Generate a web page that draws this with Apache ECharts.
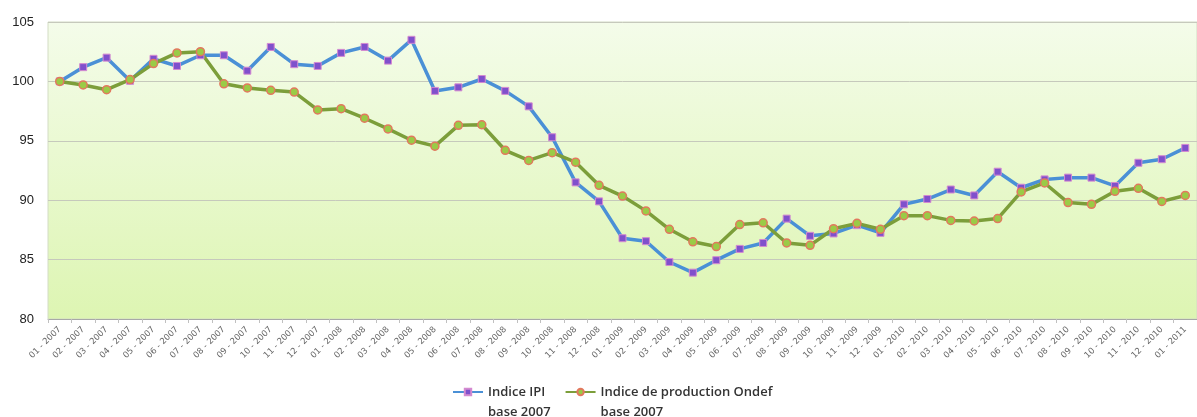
<!DOCTYPE html>
<html>
<head>
<meta charset="utf-8">
<script src="https://cdn.jsdelivr.net/npm/echarts@6/dist/echarts.min.js"></script>
<style>
  html, body { margin: 0; padding: 0; background: #fff; }
  #chart { width: 1197px; height: 417px; }
</style>
</head>
<body>
<div id="chart"></div>
<script>
// mois 01-2007 .. 01-2011
var months = [
  "01 - 2007", "02 - 2007", "03 - 2007", "04 - 2007", "05 - 2007", "06 - 2007",
  "07 - 2007", "08 - 2007", "09 - 2007", "10 - 2007", "11 - 2007", "12 - 2007",
  "01 - 2008", "02 - 2008", "03 - 2008", "04 - 2008", "05 - 2008", "06 - 2008",
  "07 - 2008", "08 - 2008", "09 - 2008", "10 - 2008", "11 - 2008", "12 - 2008",
  "01 - 2009", "02 - 2009", "03 - 2009", "04 - 2009", "05 - 2009", "06 - 2009",
  "07 - 2009", "08 - 2009", "09 - 2009", "10 - 2009", "11 - 2009", "12 - 2009",
  "01 - 2010", "02 - 2010", "03 - 2010", "04 - 2010", "05 - 2010", "06 - 2010",
  "07 - 2010", "08 - 2010", "09 - 2010", "10 - 2010", "11 - 2010", "12 - 2010",
  "01 - 2011"
];

var indiceIPI = [
  100, 101.2, 102.0, 100.05, 101.9, 101.3, 102.2, 102.2, 100.9, 102.9, 101.45, 101.3,
  102.4, 102.9, 101.75, 103.5, 99.2, 99.5, 100.2, 99.2, 97.9, 95.3, 91.5, 89.9,
  86.8, 86.55, 84.8, 83.9, 84.95, 85.9, 86.4, 88.45, 87.0, 87.2, 87.9, 87.25,
  89.65, 90.1, 90.9, 90.4, 92.4, 91.05, 91.75, 91.9, 91.9, 91.2, 93.15, 93.45,
  94.4
];

var indiceOndef = [
  100, 99.7, 99.3, 100.15, 101.5, 102.4, 102.5, 99.8, 99.45, 99.25, 99.1, 97.6,
  97.7, 96.9, 96.0, 95.05, 94.55, 96.3, 96.35, 94.2, 93.35, 94.0, 93.2, 91.25,
  90.35, 89.1, 87.55, 86.5, 86.1, 87.95, 88.1, 86.4, 86.2, 87.6, 88.05, 87.55,
  88.7, 88.7, 88.3, 88.25, 88.45, 90.7, 91.45, 89.8, 89.65, 90.75, 91.0, 89.9,
  90.4
];

var yTicks = [80, 85, 90, 95, 100, 105];

var nameIPI = "Indice IPI\nbase 2007";
var nameOndef = "Indice de production Ondef\nbase 2007";

var myChart = echarts.init(document.getElementById("chart"));

var option = {
  animation: false,
  grid: {
    show: true,
    left: 48,
    top: 22,
    bottom: 98,
    width: 1161,
    borderColor: "#d3dcc4",
    borderWidth: 1,
    backgroundColor: {
      type: "linear", x: 0, y: 0, x2: 0, y2: 1,
      colorStops: [
        { offset: 0, color: "#f4fcea" },
        { offset: 1, color: "#ddf5b2" }
      ]
    }
  },
  legend: {
    left: 452,
    top: 362,
    padding: 0,
    itemWidth: 30,
    itemHeight: 8,
    itemGap: 14,
    // ligne vide en tete pour aligner l'icone sur la premiere ligne
    formatter: function (name) {
      return "\n" + name;
    },
    textStyle: {
      fontFamily: "Open Sans",
      fontWeight: 600,
      fontSize: 13,
      color: "#333",
      lineHeight: 20
    },
    data: [nameIPI, nameOndef]
  },
  xAxis: {
    type: "category",
    data: months,
    boundaryGap: true,
    axisLine: { show: true, lineStyle: { color: "#a8a8a8", width: 1 } },
    axisTick: { show: true, interval: 0, length: 4, lineStyle: { color: "#c0c0c0" } },
    axisLabel: {
      interval: 0,
      rotate: 45,
      fontSize: 8.5,
      fontFamily: "DejaVu Sans",
      color: "#666",
      margin: 9
    },
    splitLine: { show: false }
  },
  yAxis: {
    type: "value",
    min: yTicks[0],
    max: yTicks[yTicks.length - 1],
    interval: 5,
    axisLine: { show: false },
    axisTick: { show: false },
    axisLabel: {
      fontSize: 13,
      fontFamily: "Liberation Sans",
      color: "#222",
      margin: 14
    },
    splitLine: { lineStyle: { color: "#c6c9bc", width: 1 } }
  },
  series: [
    {
      name: nameIPI,
      type: "line",
      data: indiceIPI,
      symbol: "rect",
      symbolSize: 7,
      lineStyle: { color: "#4a90d6", width: 3.5 },
      itemStyle: { color: "#8050cc", borderColor: "#d48ad0", borderWidth: 1 }
    },
    {
      name: nameOndef,
      type: "line",
      data: indiceOndef,
      symbol: "circle",
      symbolSize: 8,
      lineStyle: { color: "#7c9e3a", width: 3.5 },
      itemStyle: { color: "#9acb46", borderColor: "#e2785e", borderWidth: 1.5 }
    }
  ]
};

myChart.setOption(option);
</script>
</body>
</html>
